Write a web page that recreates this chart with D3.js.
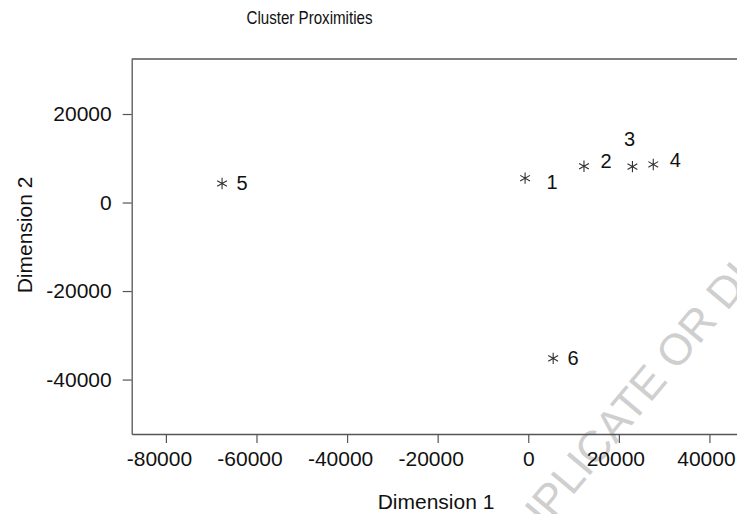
<!DOCTYPE html>
<html>
<head>
<meta charset="utf-8">
<script src="https://cdn.jsdelivr.net/npm/d3@7"></script>
<style>
  html, body { margin: 0; padding: 0; background: #fff; }
  svg { display: block; font-family: "Liberation Sans", Arial, sans-serif; }
</style>
</head>
<body>
<svg id="chart" width="737" height="514"></svg>
<script>
// ---- data ----
const clusterIds = ["1", "2", "3", "4", "5", "6"];
const dim1Values = [-700, 12300, 23000, 27600, -67600, 5500];
const dim2Values = [5500, 8200, 8100, 8600, 4300, -35200];
const labelPlacement = ["right-low", "right-high", "above", "right-high", "right", "right"];
const xTickValues = [-80000, -60000, -40000, -20000, 0, 20000, 40000];
const yTickValues = [-40000, -20000, 0, 20000];
const titleText = "Cluster Proximities";
const xTitle = "Dimension 1";
const yTitle = "Dimension 2";
const watermarkText = "DUPLICATE OR DISTRIBUTE";

(function () {
// ---- layout ----
const svg = d3.select("#chart");
const pLeft = 131.7, pRight = 745, pTop = 59, pBottom = 434;
const x = d3.scaleLinear().domain([-87550, 47850]).range([pLeft, pRight]);
const y = d3.scaleLinear().domain([-52300, 32430]).range([pBottom, pTop]);
const axisColor = "#555";
const fmt = d => String(d);

// watermark (behind everything)
svg.append("text")
  .attr("transform", "translate(512,568) rotate(-50)")
  .attr("font-size", 44)
  .attr("fill", "#cfcfcf")
  .text(watermarkText);

// title
svg.append("text")
  .attr("x", 309.5).attr("y", 24)
  .attr("text-anchor", "middle")
  .attr("font-family", "'Liberation Sans Narrow', 'Arial Narrow', 'Liberation Sans', sans-serif")
  .attr("font-size", 19)
  .attr("textLength", 126).attr("lengthAdjust", "spacingAndGlyphs")
  .attr("fill", "#111")
  .text(titleText);

// top frame line
svg.append("line")
  .attr("x1", pLeft).attr("x2", pRight)
  .attr("y1", pTop).attr("y2", pTop)
  .attr("stroke", axisColor).attr("stroke-width", 1.3);

// axes
const xAxis = svg.append("g")
  .attr("transform", `translate(0,${pBottom})`)
  .call(d3.axisBottom(x).tickValues(xTickValues).tickFormat(fmt)
    .tickSize(9).tickSizeOuter(0).tickPadding(8));
const yAxis = svg.append("g")
  .attr("transform", `translate(${pLeft},0)`)
  .call(d3.axisLeft(y).tickValues(yTickValues).tickFormat(fmt)
    .tickSize(9).tickSizeOuter(0).tickPadding(11));

[xAxis, yAxis].forEach(g => {
  g.select(".domain").attr("stroke", axisColor).attr("stroke-width", 1.3);
  g.selectAll(".tick line").attr("stroke", axisColor).attr("stroke-width", 1.2);
  g.selectAll(".tick text")
    .attr("font-size", 21)
    .attr("font-family", "'Liberation Sans', Arial, sans-serif")
    .attr("fill", "#111");
});
// the reference's x tick labels sit slightly left of their ticks
xAxis.selectAll(".tick text")
  .attr("dx", d => -((Math.abs(d) >= 10 ? 3.5 : 0) + (d < 0 ? 3.5 : 0)));

// axis titles
svg.append("text")
  .attr("x", 436).attr("y", 509)
  .attr("text-anchor", "middle")
  .attr("font-size", 21)
  .attr("fill", "#111")
  .text(xTitle);
svg.append("text")
  .attr("transform", "translate(32,235) rotate(-90)")
  .attr("text-anchor", "middle")
  .attr("font-size", 21)
  .attr("fill", "#111")
  .text(yTitle);

// points
const points = clusterIds.map((id, i) => ({
  id, vx: dim1Values[i], vy: dim2Values[i], place: labelPlacement[i]
}));
const star = d3.symbol().type(d3.symbolAsterisk).size(90);
svg.append("g").selectAll("path")
  .data(points).join("path")
  .attr("d", star)
  .attr("transform", d => `translate(${x(d.vx)},${y(d.vy)})`)
  .attr("fill", "none")
  .attr("stroke", "#333")
  .attr("stroke-width", 1.1);

// labels
const offsets = {
  "right": [20, -1],
  "right-high": [22, -5],
  "right-low": [27, 4],
  "above": [-3, -28]
};
const labelSize = 20;
svg.append("g").selectAll("text")
  .data(points).join("text")
  .attr("x", d => x(d.vx) + offsets[d.place][0])
  .attr("y", d => y(d.vy) + offsets[d.place][1] + 0.36 * labelSize)
  .attr("text-anchor", "middle")
  .attr("font-size", labelSize)
  .attr("fill", "#111")
  .text(d => d.id);
})();
</script>
</body>
</html>
